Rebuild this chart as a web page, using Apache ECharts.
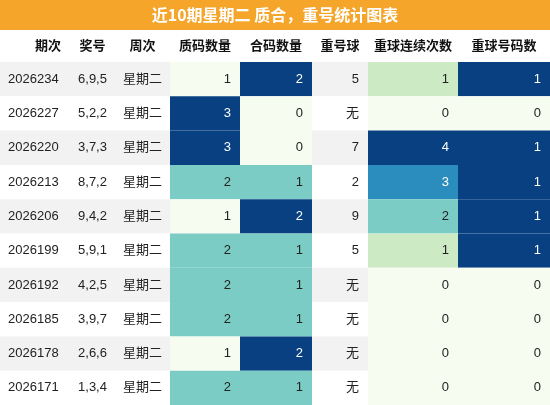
<!DOCTYPE html>
<html><head><meta charset="utf-8">
<script src="https://cdn.jsdelivr.net/npm/echarts@6/dist/echarts.min.js"></script>
<style>html,body{margin:0;padding:0;background:#fff}#c{width:550px;height:405px}</style>
</head><body><div id="c"></div>
<script>
const headers = ['期次','奖号','周次','质码数量','合码数量','重号球','重球连续次数','重球号码数'];
const issues = ['2026234','2026227','2026220','2026213','2026206','2026199','2026192','2026185','2026178','2026171'];
const nums = ['6,9,5','5,2,2','3,7,3','8,7,2','9,4,2','5,9,1','4,2,5','3,9,7','2,6,6','1,3,4'];
const weekday = ['星期二','星期二','星期二','星期二','星期二','星期二','星期二','星期二','星期二','星期二'];
const primeCount = [1,3,3,2,1,2,2,2,1,2];
const compCount = [2,0,0,1,2,1,1,1,2,1];
const repeatBall = ['5','无','7','2','9','5','无','无','无','无'];
const repeatRun = [1,0,4,3,2,1,0,0,0,0];
const repeatCount = [1,0,1,1,1,1,0,0,0,0];

const colEdges = [0,70,115,170,240,312,368,458,550];
const palette = ['#f7fcf0','#e0f3db','#ccebc5','#a8ddb5','#7bccc4','#4eb3d3','#2b8cbe','#0868ac','#084081'];
const cols = [issues, nums, weekday, primeCount, compCount, repeatBall, repeatRun, repeatCount];
const heatCols = [3,4,6,7];
const ranges = {};
heatCols.forEach(c => { ranges[c] = [Math.min(...cols[c]), Math.max(...cols[c])]; });

const data = [];
cols.forEach((arr, c) => arr.forEach((v, r) => data.push([c, r, v])));

function renderItem(params, api) {
  const c = api.value(0), r = api.value(1);
  const v = cols[c][r];
  const p0 = api.coord([colEdges[c], r]);
  const p1 = api.coord([colEdges[c+1], r]);
  const h = api.size([0, 1])[1];
  const x = p0[0], w = p1[0] - p0[0], y = p0[1] - h/2;
  let fill = r % 2 === 0 ? '#f2f2f2' : '#ffffff';
  let tc = '#222';
  if (heatCols.includes(c)) {
    const [mn, mx] = ranges[c];
    const t = (v - mn) / (mx - mn);
    const idx = Math.round(t * 8);
    fill = palette[idx];
    if (idx >= 6) tc = '#fff';
  }
  let align = 'right', tx = x + w - 9;
  if (c === 0) { align = 'left'; tx = x + 8; }
  else if (c === 1 || c === 2) { align = 'center'; tx = x + w/2; }
  return { type: 'group', children: [
    { type: 'rect', shape: { x, y, width: w, height: h }, style: { fill } },
    { type: 'text', style: { x: tx, y: y + h/2, text: String(v), align, verticalAlign: 'middle', fill: tc, font: '13px "Liberation Sans", "Noto Sans CJK SC", sans-serif' } }
  ]};
}

const headerGraphics = headers.map((t, i) => {
  const cx = i === 0 ? 48 : (colEdges[i] + colEdges[i+1]) / 2;
  return { type: 'text', x: cx, y: 46, style: { text: t, align: 'center', verticalAlign: 'middle', fill: '#111', font: 'bold 13px "Liberation Sans", "Noto Sans CJK SC", sans-serif' } };
});

const chart = echarts.init(document.getElementById('c'));
chart.setOption({
  animation: false,
  grid: { left: 0, right: 0, top: 62, bottom: 0 },
  xAxis: { type: 'value', min: 0, max: 550, show: false },
  yAxis: { type: 'category', data: issues, inverse: true, show: false },
  graphic: [
    { type: 'rect', shape: { x: 0, y: 0, width: 550, height: 30 }, style: { fill: '#f5a52a' } },
    { type: 'text', x: 275, y: 15, style: { text: '近10期星期二 质合，重号统计图表', align: 'center', verticalAlign: 'middle', fill: '#fff', font: 'bold 16px "Noto Sans CJK SC", sans-serif' } },
    ...headerGraphics
  ],
  series: [{ type: 'custom', renderItem, data, encode: { x: 0, y: 1 } }]
});
</script></body></html>
